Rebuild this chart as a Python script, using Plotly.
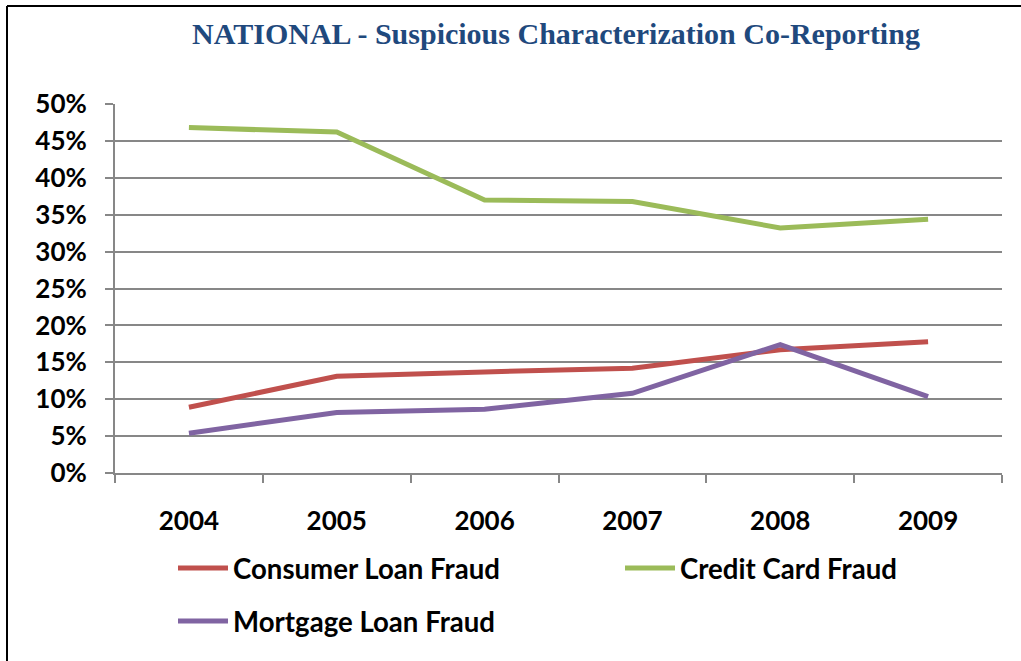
import plotly.graph_objects as go

years = ["2004", "2005", "2006", "2007", "2008", "2009"]
consumer_loan = [0.089, 0.131, 0.137, 0.142, 0.167, 0.178]
credit_card = [0.468, 0.462, 0.370, 0.368, 0.332, 0.344]
mortgage_loan = [0.054, 0.082, 0.0865, 0.108, 0.174, 0.1035]
y_ticks = [0, 0.05, 0.10, 0.15, 0.20, 0.25, 0.30, 0.35, 0.40, 0.45, 0.50]
y_tick_labels = ["0%", "5%", "10%", "15%", "20%", "25%", "30%", "35%", "40%", "45%", "50%"]

W, H = 1021, 661
L, R, T, B = 115, 1002, 104, 473
PW, PH = R - L, B - T

def px(x):
    return (x - L) / PW

def py(y):
    return (B - y) / PH

FONT = "Lato"
GRID = "#878787"
legend_font = dict(family=FONT, size=27.6, color="black", weight="bold")

fig = go.Figure()
fig.add_trace(go.Scatter(x=years, y=consumer_loan, name="Consumer Loan Fraud", mode="lines",
                         line=dict(color="#C0504D", width=5), legend="legend2"))
fig.add_trace(go.Scatter(x=years, y=credit_card, name="Credit Card Fraud", mode="lines",
                         line=dict(color="#9BBB59", width=5), legend="legend3"))
fig.add_trace(go.Scatter(x=years, y=mortgage_loan, name="Mortgage Loan Fraud", mode="lines",
                         line=dict(color="#8064A2", width=5), legend="legend4"))

def leg(x, y):
    return dict(orientation="h", x=px(x), xanchor="left", y=py(y), yanchor="middle",
                bgcolor="rgba(0,0,0,0)", font=legend_font, itemwidth=50)

fig.update_layout(
    width=W, height=H,
    showlegend=True,
    margin=dict(l=L, r=W - R, t=T, b=H - B, pad=0, autoexpand=False),
    paper_bgcolor="white", plot_bgcolor="white",
    title=dict(text="<b>NATIONAL - Suspicious Characterization Co-Reporting</b>",
               x=556 / W, xanchor="center", y=1 - 33 / H, yanchor="middle",
               font=dict(family="Liberation Serif", size=30, color="#1F497D")),
    xaxis=dict(type="category", range=[-0.5, 5.5], showgrid=False, showline=True,
               linecolor=GRID, linewidth=2, ticks="outside", tickson="boundaries",
               ticklen=8, tickwidth=2, tickcolor=GRID, ticklabelstandoff=24,
               tickfont=dict(family=FONT, size=26, color="black", weight="bold")),
    yaxis=dict(range=[0, 0.5], tickvals=y_ticks, ticktext=y_tick_labels,
               showgrid=True, gridcolor=GRID, gridwidth=2, showline=True,
               linecolor=GRID, linewidth=2, ticks="outside", ticklen=8, tickwidth=2,
               tickcolor=GRID, zeroline=False, ticklabelstandoff=13,
               tickfont=dict(family=FONT, size=26, color="black", weight="bold")),
    legend2=leg(173, 568),
    legend3=leg(620, 568),
    legend4=leg(173, 621),
    shapes=[
        dict(type="line", xref="paper", yref="paper", x0=px(7), x1=px(W), y0=py(6), y1=py(6),
             line=dict(color="black", width=2)),
        dict(type="line", xref="paper", yref="paper", x0=px(7), x1=px(7), y0=py(6), y1=py(H),
             line=dict(color="black", width=2)),
    ],
)

fig.write_html("out.html", config={"displayModeBar": False},
               post_script="document.body.style.margin='0';")
